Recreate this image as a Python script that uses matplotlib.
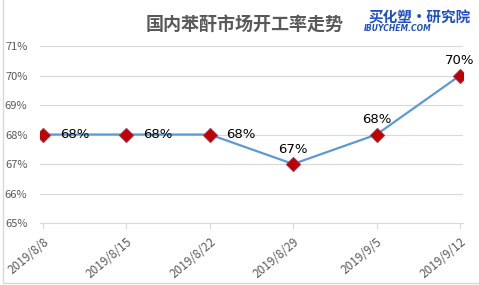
import matplotlib.pyplot as plt
from matplotlib.ticker import FuncFormatter
from matplotlib.patches import Rectangle

plt.rcParams['font.family'] = ['Noto Sans CJK SC', 'DejaVu Sans']

# 数据
dates = ['2019/8/8', '2019/8/15', '2019/8/22', '2019/8/29', '2019/9/5', '2019/9/12']
rates = [0.68, 0.68, 0.68, 0.67, 0.68, 0.70]
labels = ['68%', '68%', '68%', '67%', '68%', '70%']
yticks = [0.65, 0.66, 0.67, 0.68, 0.69, 0.70, 0.71]

fig = plt.figure(figsize=(4.79, 2.85), dpi=100)
ax = fig.add_axes([0.0835, 0.2175, 0.883, 0.621])

x = list(range(len(dates)))
ax.plot(x, rates, color='#5B9BD5', lw=1.6, zorder=2)
ax.plot(x, rates, ls='none', marker='D', ms=7.5, mfc='#C00000',
        mec='#A0304A', mew=0.8, zorder=3)

# 数据标签
for i, (v, t) in enumerate(zip(rates, labels)):
    if i < 3:
        ax.text(i + 0.2, v, t, ha='left', va='center', fontsize=9.5,
                color='#000000', family='DejaVu Sans')
    else:
        ax.text(i, v + 0.0028, t, ha='center', va='bottom', fontsize=9.5,
                color='#000000', family='DejaVu Sans')

ax.set_xlim(-0.036, 5.036)
ax.set_ylim(0.65, 0.71)
ax.set_yticks(yticks)
ax.yaxis.set_major_formatter(FuncFormatter(lambda v, p: f'{v*100:.0f}%'))
ax.grid(axis='y', color='#D9D9D9', lw=0.8)
ax.set_axisbelow(True)

ax.set_xticks(x)
ax.set_xticklabels(dates, rotation=40, ha='right', rotation_mode='anchor')
ax.tick_params(axis='x', length=4, color='#D9D9D9', labelsize=8.5,
               labelcolor='#595959', pad=5)
ax.tick_params(axis='y', length=0, labelsize=8, labelcolor='#595959', pad=9)

for s in ['top', 'right', 'left']:
    ax.spines[s].set_visible(False)
ax.spines['bottom'].set_color('#D9D9D9')

# 标题与标识
fig.text(0.51, 0.915, '国内苯酐市场开工率走势', ha='center', va='center',
         fontsize=13, color='#595959', fontweight='bold')
fig.text(0.875, 0.94, '买化塑·研究院', ha='center', va='center',
         fontsize=10.5, color='#1F4FC8', fontweight='heavy', style='italic')
fig.text(0.83, 0.9, 'IBUYCHEM.COM', ha='center', va='center',
         fontsize=5.5, color='#1F4FC8', fontweight='bold', style='italic',
         family='DejaVu Sans')

# 外框
fig.patches.append(Rectangle((0.006, 0.007), 1.2, 1.2, transform=fig.transFigure,
                             fill=False, ec='#D9D9D9', lw=1))

fig.savefig('out.png', dpi=100)
